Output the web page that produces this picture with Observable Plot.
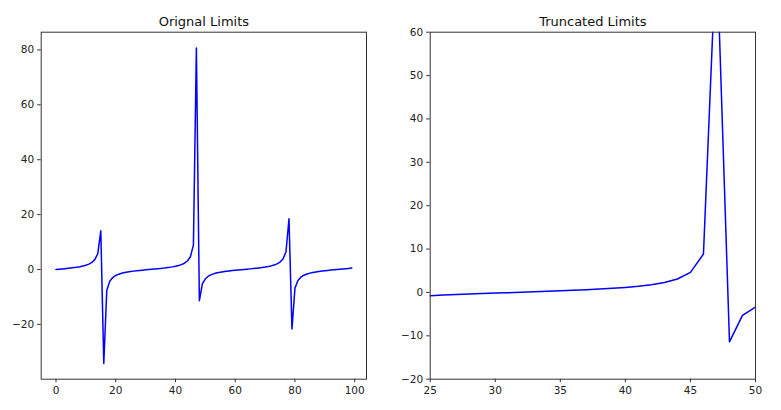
<!DOCTYPE html>
<html>
<head>
<meta charset="utf-8">
<script src="https://cdn.jsdelivr.net/npm/d3@7"></script>
<script src="https://cdn.jsdelivr.net/npm/@observablehq/plot@0.6"></script>
<style>
  html, body { margin: 0; padding: 0; background: #fff; }
  #wrap { position: relative; width: 781px; height: 410px; overflow: hidden; }
  #wrap > div { position: absolute; top: 0; }
  svg { font-family: "DejaVu Sans", sans-serif; }
</style>
</head>
<body>
<div id="wrap"><div id="left" style="left:0px"></div><div id="right" style="left:390px"></div></div>
<script>
const xs = [0,1,2,3,4,5,6,7,8,9,10,11,12,13,14,15,16,17,18,19,20,21,22,23,24,25,26,27,28,29,30,31,32,33,34,35,36,37,38,39,40,41,42,43,44,45,46,47,48,49,50,51,52,53,54,55,56,57,58,59,60,61,62,63,64,65,66,67,68,69,70,71,72,73,74,75,76,77,78,79,80,81,82,83,84,85,86,87,88,89,90,91,92,93,94,95,96,97,98,99];
const ys = [0, 0.1003, 0.2027, 0.3093, 0.4228, 0.5463, 0.6841, 0.8423, 1.0296, 1.2602,
  1.5574, 1.9648, 2.5722, 3.6021, 5.7979, 14.1014, -34.2325, -7.6966, -4.2863, -2.9271,
  -2.1850, -1.7098, -1.3738, -1.1192, -0.9160, -0.7470, -0.6016, -0.4727, -0.3555, -0.2464,
  -0.1425, -0.0416, 0.0585, 0.1597, 0.2643, 0.3746, 0.4935, 0.6247, 0.7736, 0.9474,
  1.1578, 1.4235, 1.7777, 2.2858, 3.0963, 4.6373, 8.8602, 80.7128, -11.3849, -5.2675,
  -3.3805, -2.4494, -1.8856, -1.5013, -1.2175, -0.9956, -0.8139, -0.6598, -0.5247, -0.4032,
  -0.2910, -0.1853, -0.0834, 0.0168, 0.1173, 0.2203, 0.3279, 0.4427, 0.5683, 0.7096,
  0.8714, 1.0651, 1.3046, 1.6165, 2.0492, 2.7060, 3.8520, 6.4590, 18.50, -21.71,
  -6.7997, -3.9824, -2.7753, -2.0912, -1.6457, -1.3264, -1.0820, -0.8856, -0.7212, -0.5789,
  -0.4523, -0.3367, -0.2286, -0.1254, -0.0248, 0.0754, 0.1770, 0.2824, 0.3939, 0.5146];

const leftTitle = "Orignal Limits";
const rightTitle = "Truncated Limits";
const leftXTicks = [0, 20, 40, 60, 80, 100];
const leftYTicks = [-20, 0, 20, 40, 60, 80];
const rightXTicks = [25, 30, 35, 40, 45, 50];
const rightYTicks = [-20, -10, 0, 10, 20, 30, 40, 50, 60];
const leftXDomain = [-4.95, 103.95];
const leftYDomain = [-39.98, 86.46];
const rightXDomain = [25, 50];
const rightYDomain = [-20, 60];

const rows = xs.map((x, i) => ({x, y: ys[i]}));

function panel({width, marginLeft, marginRight, xDomain, yDomain, xTicks, yTicks, title, clip}) {
  return Plot.plot({
    width, height: 410,
    marginLeft, marginRight, marginTop: 31.7, marginBottom: 31.3,
    style: {fontFamily: "DejaVu Sans, sans-serif", background: "#fff", color: "#000"},
    x: {domain: xDomain},
    y: {domain: yDomain},
    marks: [
      Plot.line(rows, {x: "x", y: "y", stroke: "#0000ff", strokeWidth: 1.5, clip}),
      Plot.frame({stroke: "#333", strokeWidth: 1}),
      Plot.axisX({ticks: xTicks, tickSize: 3.5, tickPadding: 3.5, fontSize: 10.5, label: null, stroke: "#333", fill: "#222"}),
      Plot.axisY({ticks: yTicks, tickSize: 3.5, tickPadding: 3.5, fontSize: 10.5, label: null, stroke: "#333", fill: "#222"}),
      Plot.text([title], {frameAnchor: "top", lineAnchor: "middle", text: d => d, dy: -10, fontSize: 13, fill: "#111"})
    ]
  });
}

document.getElementById("left").append(panel({
  width: 390, marginLeft: 40.7, marginRight: 24,
  xDomain: leftXDomain, yDomain: leftYDomain,
  xTicks: leftXTicks, yTicks: leftYTicks, title: leftTitle, clip: false
}));
document.getElementById("right").append(panel({
  width: 391, marginLeft: 39.7, marginRight: 26,
  xDomain: rightXDomain, yDomain: rightYDomain,
  xTicks: rightXTicks, yTicks: rightYTicks, title: rightTitle, clip: true
}));
</script>
</body>
</html>
